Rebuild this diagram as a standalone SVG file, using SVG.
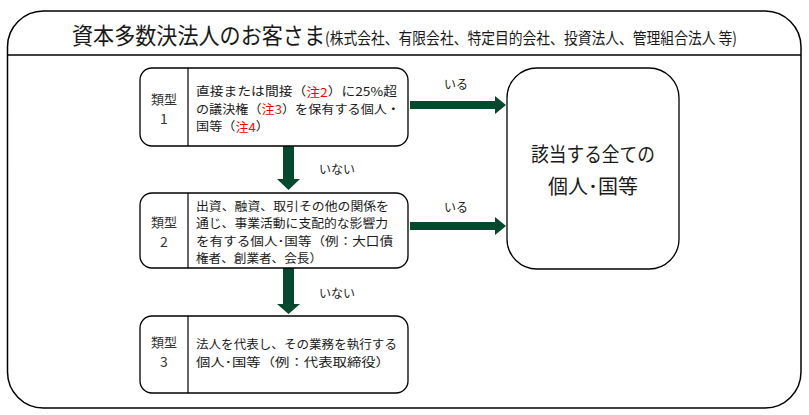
<svg xmlns="http://www.w3.org/2000/svg" width="809" height="415" viewBox="0 0 809 415">
<style>
text{font-family:"Noto Sans CJK JP","Noto Sans",sans-serif;fill:#1a1a1a;dominant-baseline:central}
.box{fill:#fff;stroke:#000;stroke-width:1.3}
.div{stroke:#000;stroke-width:1.2}
.t{font-size:12px}
.lab{font-size:13px;text-anchor:middle;fill:#333}
.num{font-size:14px;text-anchor:middle;fill:#333}
.r{fill:#ff0000}
.arr{fill:#06492f}
.big{font-size:20px;text-anchor:middle}
</style>
<rect width="809" height="415" fill="#fff"/>
<g id="frame">
<rect x="7.5" y="11" width="793.5" height="397" rx="36" ry="36" fill="#fff" stroke="#000" stroke-width="1.5"/>
<line x1="7.5" y1="55" x2="801" y2="55" stroke="#000" stroke-width="1.3"/>
<text x="72" y="34" font-size="23" textLength="253" lengthAdjust="spacingAndGlyphs">資本多数決法人のお客さま</text>
<text x="325" y="37" font-size="16" textLength="412" lengthAdjust="spacingAndGlyphs">(株式会社、有限会社、特定目的会社、投資法人、管理組合法人 等)</text>
</g>
<g id="connectors">
<polygon class="arr" points="410,101 495,101 495,96 506,105 495,114 495,109 410,109"/>
<polygon class="arr" points="410,222 495,222 495,217 506,226 495,235 495,230 410,230"/>
<polygon class="arr" points="283,146 294,146 294,179 300,179 288.5,190 277,179 283,179"/>
<polygon class="arr" points="283,268 294,268 294,304 300,304 288.5,314 277,304 283,304"/>
<text class="t" x="456" y="83" text-anchor="middle" font-size="13">いる</text>
<text class="t" x="456" y="206" text-anchor="middle" font-size="13">いる</text>
<text class="t" x="319" y="168" font-size="13">いない</text>
<text class="t" x="319" y="292" font-size="13">いない</text>
</g>
<g id="type1">
<rect class="box" x="140" y="68" width="268" height="78" rx="12"/>
<line class="div" x1="188" y1="68" x2="188" y2="146"/>
<text class="lab" x="164" y="98">類型</text>
<text class="num" x="164" y="117.5">1</text>
<text class="t" x="196" y="90.5" textLength="201" lengthAdjust="spacingAndGlyphs">直接または間接（<tspan class="r">注2</tspan>）に25%超</text>
<text class="t" x="196" y="108" textLength="204" lengthAdjust="spacingAndGlyphs">の議決権（<tspan class="r">注3</tspan>）を保有する個人・</text>
<text class="t" x="196" y="125.5" textLength="73" lengthAdjust="spacingAndGlyphs">国等（<tspan class="r">注4</tspan>）</text>
</g>
<g id="type2">
<rect class="box" x="140" y="193" width="268" height="75" rx="12"/>
<line class="div" x1="188" y1="193" x2="188" y2="268"/>
<text class="lab" x="164" y="221.5">類型</text>
<text class="num" x="164" y="241">2</text>
<text class="t" x="196" y="205" textLength="193" lengthAdjust="spacingAndGlyphs">出資、融資、取引その他の関係を</text>
<text class="t" x="196" y="222.5" textLength="192" lengthAdjust="spacingAndGlyphs">通じ、事業活動に支配的な影響力</text>
<text class="t" x="196" y="240" textLength="197" lengthAdjust="spacingAndGlyphs">を有する個人･国等（例：大口債</text>
<text class="t" x="196" y="257.5" textLength="126" lengthAdjust="spacingAndGlyphs">権者、創業者、会長）</text>
</g>
<g id="type3">
<rect class="box" x="140" y="316" width="268" height="77" rx="12"/>
<line class="div" x1="188" y1="316" x2="188" y2="393"/>
<text class="lab" x="164" y="341.5">類型</text>
<text class="num" x="164" y="361">3</text>
<text class="t" x="196" y="343" textLength="201" lengthAdjust="spacingAndGlyphs">法人を代表し、その業務を執行する</text>
<text class="t" x="196" y="361" textLength="194" lengthAdjust="spacingAndGlyphs">個人･国等（例：代表取締役）</text>
</g>
<g id="result">
<rect class="box" x="507" y="68" width="172" height="201" rx="30"/>
<text class="big" x="593" y="153" textLength="124" lengthAdjust="spacingAndGlyphs">該当する全ての</text>
<text class="big" x="593" y="185">個人･国等</text>
</g>
</svg>
